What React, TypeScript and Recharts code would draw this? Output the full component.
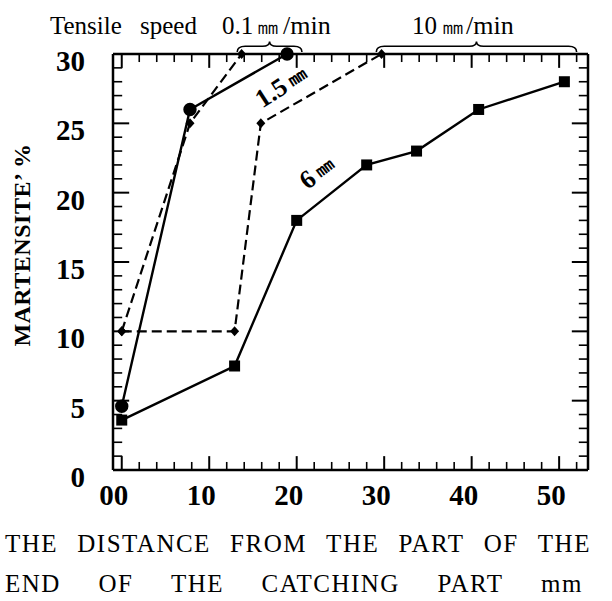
import React from 'react';
import { LineChart, Line, XAxis, YAxis, ReferenceArea, ReferenceDot, ReferenceLine } from 'recharts';

const SERIF = "'Liberation Serif', 'Times New Roman', serif";

// tensile speed 0.1 mm/min, 6 mm (solid, circles)
const slow6X = [0, 7.8, 18.9];
const slow6Y = [4.6, 26, 30];
// tensile speed 0.1 mm/min, 1.5 mm (dashed)
const slow15X = [0, 7.8, 13.7];
const slow15Y = [10, 25, 30];
// tensile speed 10 mm/min, 1.5 mm (dashed)
const fast15X = [0, 12.9, 15.9, 29.7];
const fast15Y = [10, 10, 25, 30];
// tensile speed 10 mm/min, 6 mm (solid, squares)
const fast6X = [0, 12.9, 20, 28, 33.7, 40.8, 50.6];
const fast6Y = [3.6, 7.5, 18, 22, 23, 26, 28];

const xMajor = [0, 10, 20, 30, 40, 50];
const xTicks = [0, 2, 4, 6, 8, 10, 12, 14, 16, 18, 20, 22, 24, 26, 28, 30, 32, 34, 36, 38, 40, 42, 44, 46, 48, 50, 52];
const yMajor = [0, 5, 10, 15, 20, 25, 30];
const yTicks = [0, 1, 2, 3, 4, 5, 6, 7, 8, 9, 10, 11, 12, 13, 14, 15, 16, 17, 18, 19, 20, 21, 22, 23, 24, 25, 26, 27, 28, 29, 30];

const titleRow1 = ['THE', 'DISTANCE', 'FROM', 'THE', 'PART', 'OF', 'THE'];
const titleRow2 = ['END', 'OF', 'THE', 'CATCHING', 'PART', 'mm'];

const X_DOMAIN: [number, number] = [-1, 53.3];
const Y_DOMAIN: [number, number] = [0, 30];

const pts = (xs: number[], ys: number[]) => xs.map((x, i) => ({ x, y: ys[i] }));

const tickFont = { fontFamily: SERIF, fontSize: 29, fontWeight: 'bold' as const };

const XLabel = ({ x, y, payload }: any) => (
  <text x={x - 8} y={y + 25} textAnchor="middle" dominantBaseline="central" fill="#000" {...tickFont}>
    {payload.value === 0 ? '00' : payload.value}
  </text>
);

const YLabel = ({ x, y, payload }: any) => (
  <text x={x - 28} y={y + 7} textAnchor="end" dominantBaseline="central" fill="#000" {...tickFont}>
    {payload.value}
  </text>
);

const Square = ({ cx, cy }: any) =>
  cx == null ? null : <rect x={cx - 5.5} y={cy - 5.5} width={11} height={11} fill="#000" />;

const Diamond = ({ cx, cy }: any) =>
  cx == null ? null : (
    <path d={`M${cx},${cy - 5} L${cx + 4.5},${cy} L${cx},${cy + 5} L${cx - 4.5},${cy} Z`} fill="#000" />
  );

const Brace = ({ x, y, width, height }: any) => {
  const b = y + height;
  const m = y + height * 0.45;
  const mid = x + width / 2;
  const r = x + width;
  const d = `M${x},${b} Q${x},${m} ${x + 8},${m} L${mid - 7},${m} Q${mid},${m} ${mid},${y} ` +
    `Q${mid},${m} ${mid + 7},${m} L${r - 8},${m} Q${r},${m} ${r},${b}`;
  return <path d={d} fill="none" stroke="#000" strokeWidth={1.6} />;
};

const lineLabel = (big: string, angle: number) => ({ cx, cy }: any) => (
  <text x={cx} y={cy} textAnchor="middle" dominantBaseline="central"
    transform={`rotate(${angle} ${cx} ${cy})`} fontFamily={SERIF} fontWeight="bold" fill="#000">
    <tspan fontSize={26}>{big}</tspan>
    <tspan fontSize={20} dx={4}>㎜</tspan>
  </text>
);

const axisLine = { stroke: '#000', strokeWidth: 2.5 };

const word = { fontFamily: SERIF, fontSize: 25, fill: '#000' };

// inward tick marks, in data units (long every 10 on x and every 5 on y)
const xTickLen = (v: number) => (v % 10 === 0 ? 1.0 : 0.58);
const yTickLen = (v: number) => (v % 5 === 0 ? 1.85 : 1.05);

export default function App() {
  return (
    <div style={{ position: 'absolute', left: 0, top: 0, width: 612, height: 601, background: '#fff', fontFamily: SERIF }}>
      <LineChart width={612} height={601} margin={{ top: 53, right: 23, bottom: 130, left: 112 }}>
        <XAxis xAxisId="b" type="number" dataKey="x" domain={X_DOMAIN} ticks={xMajor} interval={0}
          height={1} tickSize={0} tickMargin={0} tick={<XLabel />} axisLine={axisLine} tickLine={false} />
        <XAxis xAxisId="t" orientation="top" type="number" dataKey="x" domain={X_DOMAIN} ticks={xMajor} interval={0}
          height={1} tick={false} axisLine={axisLine} tickLine={false} />
        <YAxis yAxisId="l" type="number" domain={Y_DOMAIN} ticks={yMajor} interval={0}
          width={1} tickSize={0} tickMargin={0} tick={<YLabel />} axisLine={axisLine} tickLine={false} />
        <YAxis yAxisId="r" orientation="right" type="number" domain={Y_DOMAIN} ticks={yMajor} interval={0}
          width={1} tick={false} axisLine={axisLine} tickLine={false} />

        {xTicks.map((v) => (
          <ReferenceLine key={`xb${v}`} xAxisId="b" yAxisId="l" segment={[{ x: v, y: 0 }, { x: v, y: xTickLen(v) }]}
            stroke="#000" strokeWidth={v % 10 === 0 ? 2 : 1.6} />
        ))}
        {xTicks.map((v) => (
          <ReferenceLine key={`xt${v}`} xAxisId="b" yAxisId="l" segment={[{ x: v, y: 30 }, { x: v, y: 30 - xTickLen(v) }]}
            stroke="#000" strokeWidth={v % 10 === 0 ? 2 : 1.6} />
        ))}
        {yTicks.map((v) => (
          <ReferenceLine key={`yl${v}`} xAxisId="b" yAxisId="l" segment={[{ x: -1, y: v }, { x: -1 + yTickLen(v), y: v }]}
            stroke="#000" strokeWidth={v % 5 === 0 ? 2 : 1.6} />
        ))}
        {yTicks.map((v) => (
          <ReferenceLine key={`yr${v}`} xAxisId="b" yAxisId="l" segment={[{ x: 53.3, y: v }, { x: 53.3 - yTickLen(v), y: v }]}
            stroke="#000" strokeWidth={v % 5 === 0 ? 2 : 1.6} />
        ))}

        <Line xAxisId="b" yAxisId="l" data={pts(slow15X, slow15Y)} dataKey="y" stroke="#000" strokeWidth={2.2}
          strokeDasharray="10 5" dot={<Diamond />} isAnimationActive={false} />
        <Line xAxisId="b" yAxisId="l" data={pts(fast15X, fast15Y)} dataKey="y" stroke="#000" strokeWidth={2.2}
          strokeDasharray="10 5" dot={<Diamond />} isAnimationActive={false} />
        <Line xAxisId="b" yAxisId="l" data={pts(slow6X, slow6Y)} dataKey="y" stroke="#000" strokeWidth={2.4}
          dot={{ r: 5.5, fill: '#000', stroke: '#000' }} isAnimationActive={false} />
        <Line xAxisId="b" yAxisId="l" data={pts(fast6X, fast6Y)} dataKey="y" stroke="#000" strokeWidth={2.4}
          dot={<Square />} isAnimationActive={false} />

        <ReferenceArea xAxisId="b" yAxisId="l" x1={13.2} x2={20.6} y1={30.15} y2={30.9}
          ifOverflow="visible" shape={<Brace />} />
        <ReferenceArea xAxisId="b" yAxisId="l" x1={29.1} x2={52} y1={30.15} y2={30.9}
          ifOverflow="visible" shape={<Brace />} />
        <ReferenceDot xAxisId="b" yAxisId="l" x={18.2} y={27.7} r={0} shape={lineLabel('1.5', -33)} />
        <ReferenceDot xAxisId="b" yAxisId="l" x={22.3} y={21.5} r={0} shape={lineLabel('6', -37)} />
      </LineChart>

      <svg width={612} height={40} style={{ position: 'absolute', left: 0, top: 0 }}>
        <text x={50} y={34} {...word}>Tensile</text>
        <text x={140} y={34} {...word}>speed</text>
        <text x={222} y={34} {...word}>0.1</text>
        <text x={257} y={34} {...word} fontSize={22}>㎜</text>
        <text x={283} y={34} {...word} fontSize={26}>/min</text>
        <text x={412} y={34} {...word}>10</text>
        <text x={442} y={34} {...word} fontSize={22}>㎜</text>
        <text x={466} y={34} {...word} fontSize={26}>/min</text>
      </svg>
      <div style={{
        position: 'absolute', left: 22, top: 245, transform: 'translate(-50%, -50%) rotate(-90deg)',
        fontSize: 24, fontWeight: 'bold', whiteSpace: 'pre', letterSpacing: 0.5,
      }}>
        MARTENSITE’ %
      </div>
      <div style={{ position: 'absolute', left: 5, width: 586, top: 529, display: 'flex', justifyContent: 'space-between', fontSize: 25, lineHeight: '30px', letterSpacing: 1.5 }}>
        {titleRow1.map((w, i) => <span key={i}>{w}</span>)}
      </div>
      <div style={{ position: 'absolute', left: 5, width: 578, top: 569, display: 'flex', justifyContent: 'space-between', fontSize: 25, lineHeight: '30px', letterSpacing: 1.5 }}>
        {titleRow2.map((w, i) => <span key={i}>{w}</span>)}
      </div>
    </div>
  );
}
